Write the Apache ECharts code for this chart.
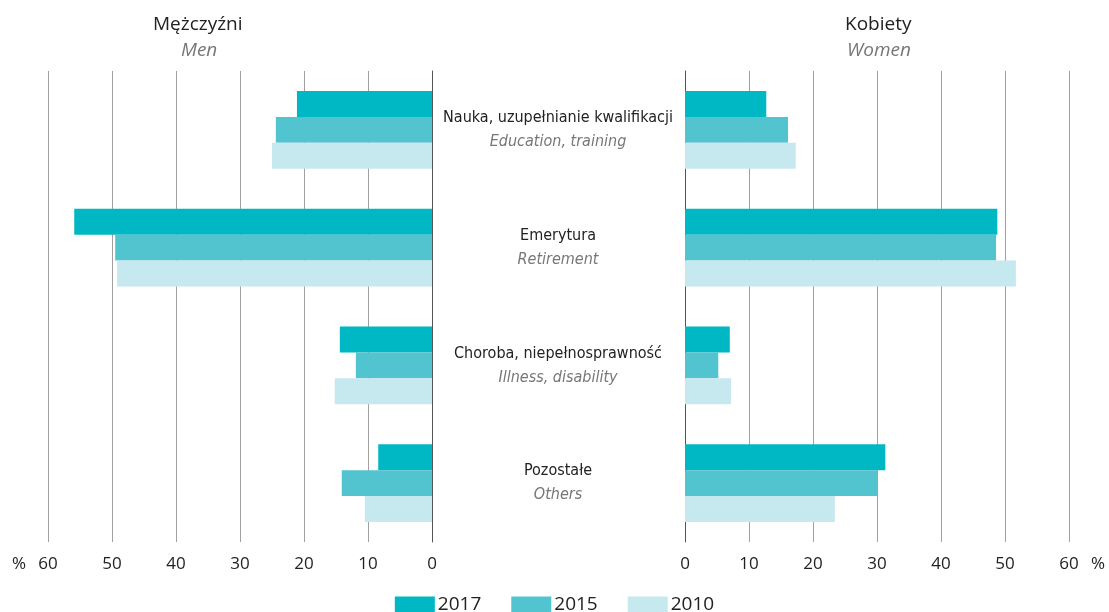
<!DOCTYPE html>
<html>
	<head>
		<meta charset="utf-8">
		<title>Mężczyźni / Kobiety</title>
		<script src="https://cdn.jsdelivr.net/npm/echarts@6/dist/echarts.min.js"></script>
		<style>
			html, body { margin: 0; padding: 0; background: #fff; }
			#main { width: 1109px; height: 612px; }
		</style>
	</head>
	<body>
		<div id="main"></div>
		<script>
			// kategorie (PL / EN)
			var categoriesPl = ['Nauka, uzupełnianie kwalifikacji', 'Emerytura', 'Choroba, niepełnosprawność', 'Pozostałe'];
			var categoriesEn = ['Education, training', 'Retirement', 'Illness, disability', 'Others'];
			var years = ['2017', '2015', '2010'];
			var colors = ['#00b7c4', '#52c4d0', '#c6e8ef'];

			// mężczyźni
			var men2017 = [21.1, 55.9, 14.4, 8.4];
			var men2015 = [24.4, 49.5, 11.9, 14.1];
			var men2010 = [25.0, 49.2, 15.2, 10.5];
			// kobiety
			var women2017 = [12.7, 48.8, 7.0, 31.3];
			var women2015 = [16.1, 48.6, 5.2, 30.0];
			var women2010 = [17.3, 51.7, 7.2, 23.4];

			var menData = [men2017, men2015, men2010];
			var womenData = [women2017, women2015, women2010];

			var myChart = echarts.init(document.getElementById('main'));
			var font = '"Open Sans", "Noto Sans", sans-serif';
			var narrow = '"DejaVu Sans Condensed", "Liberation Sans Narrow", "Open Sans", sans-serif';

			function xAxisOf(idx, inverse) {
				return {
					type: 'value',
					gridIndex: idx,
					inverse: inverse,
					min: 0,
					max: 60,
					interval: 10,
					axisLine: { show: false },
					axisTick: { show: false },
					splitLine: { lineStyle: { color: '#a0a0a0', width: 1 } },
					axisLabel: { color: '#222', fontSize: 17, fontFamily: font, margin: 14 }
				};
			}

			var series = [];
			years.forEach(function (y, i) {
				series.push({
					name: y, type: 'bar', xAxisIndex: 0, yAxisIndex: 0,
					data: menData[i], itemStyle: { color: colors[i] },
					barGap: '0%', barCategoryGap: '34%'
				});
				series.push({
					name: y, type: 'bar', xAxisIndex: 1, yAxisIndex: 1,
					data: womenData[i], itemStyle: { color: colors[i] },
					barGap: '0%', barCategoryGap: '34%'
				});
			});

			var option = {
				animation: false,
				textStyle: { fontFamily: font },
				grid: [
					{ left: 48, right: 677, top: 71, bottom: 70 },
					{ left: 685, right: 40, top: 71, bottom: 70 }
				],
				legend: {
					data: years,
					bottom: -7,
					left: 'center',
					itemWidth: 40,
					itemHeight: 16,
					itemGap: 30,
					icon: 'rect',
					textStyle: { fontSize: 19, color: '#222', fontFamily: font, padding: [0, 0, 0, -2] }
				},
				xAxis: [xAxisOf(0, true), xAxisOf(1, false)],
				yAxis: [{
					type: 'category',
					gridIndex: 0,
					inverse: true,
					position: 'right',
					data: categoriesPl,
					axisLine: { lineStyle: { color: '#555' } },
					axisTick: { show: false },
					axisLabel: { show: false }
				}, {
					type: 'category',
					gridIndex: 1,
					inverse: true,
					position: 'left',
					data: categoriesPl,
					axisLine: { lineStyle: { color: '#555' } },
					axisTick: { show: false },
					axisLabel: {
						align: 'center',
						margin: 127,
						formatter: function (v, i) {
							return '{a|' + v + '}\n{b|' + categoriesEn[i] + '}';
						},
						rich: {
							a: { fontFamily: narrow, fontSize: 16, color: '#222', lineHeight: 24, align: 'center' },
							b: { fontFamily: narrow, fontSize: 16, fontStyle: 'italic', color: '#777', lineHeight: 24, align: 'center' }
						}
					}
				}],
				graphic: [
					{ type: 'text', left: 153, top: 15, style: { text: 'Mężczyźni', font: '19px ' + font, fill: '#222' } },
					{ type: 'text', left: 181, top: 41, style: { text: 'Men', font: 'italic 19px ' + font, fill: '#777' } },
					{ type: 'text', left: 845, top: 15, style: { text: 'Kobiety', font: '19px ' + font, fill: '#222' } },
					{ type: 'text', left: 847, top: 41, style: { text: 'Women', font: 'italic 19px ' + font, fill: '#777' } },
					{ type: 'text', left: 12, top: 556, style: { text: '%', font: '17px ' + font, fill: '#222' } },
					{ type: 'text', left: 1091, top: 556, style: { text: '%', font: '17px ' + font, fill: '#222' } }
				],
				series: series
			};

			myChart.setOption(option);
		</script>
	</body>
</html>
